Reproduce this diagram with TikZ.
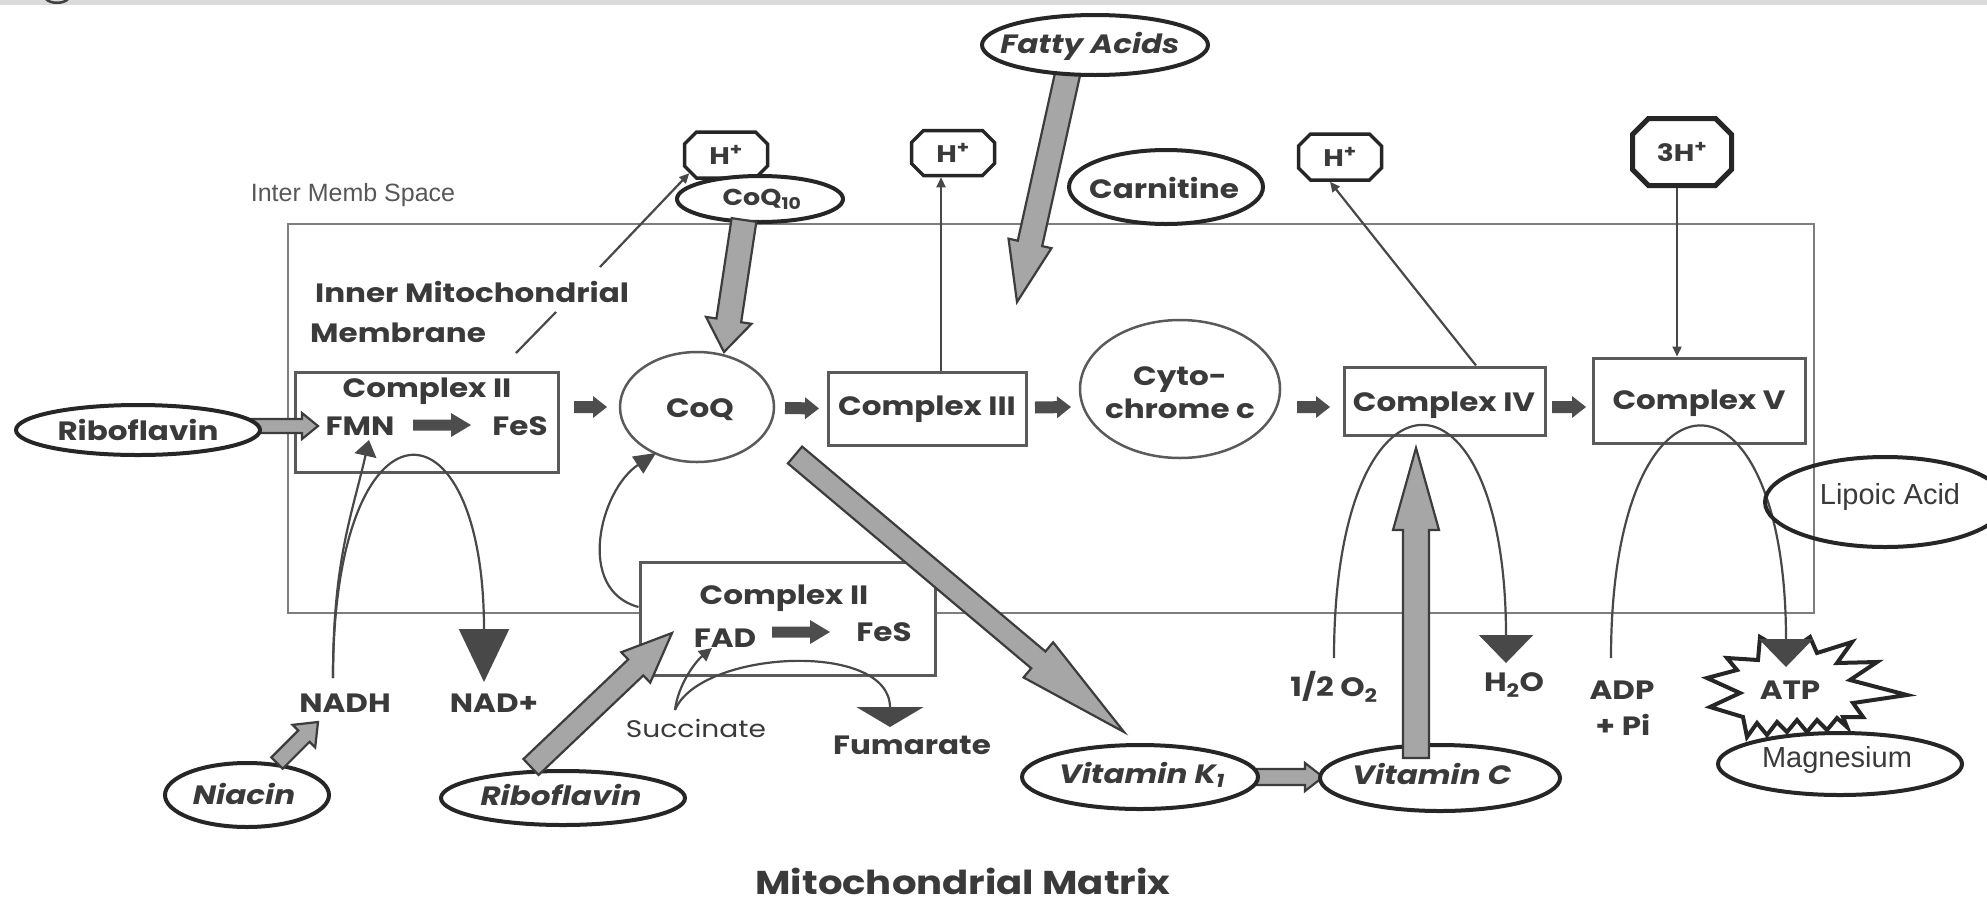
\documentclass[tikz,border=0pt]{standalone}
\usepackage{fontspec}
\newfontfamily\gf{Poppins}[FakeStretch=1.17]
\newfontfamily\af{Liberation Sans}
\usetikzlibrary{shapes.geometric,shapes.misc,arrows.meta,calc}
\definecolor{txtc}{HTML}{3A3A3A}
\definecolor{ovalc}{HTML}{262626}
\definecolor{boxc}{HTML}{5A5A5A}
\definecolor{linec}{HTML}{484848}
\definecolor{lightar}{HTML}{A6A6A6}
\definecolor{darkar}{HTML}{4D4D4D}
\definecolor{membc}{HTML}{7E7E7E}
\newcommand\gsize[1]{\fontsize{#1}{#1}\selectfont}
% block arrow: style, from, to, half shaft width, half head width, head length
\newcommand\barrow[6]{%
  \coordinate (bah) at ($(#3)!#6!(#2)$);
  \path[#1] ($(#2)!#4!90:(#3)$) -- ($(bah)!#4!90:(#3)$) -- ($(bah)!#5!90:(#3)$) -- (#3)
     -- ($(bah)!#5!-90:(#3)$) -- ($(bah)!#4!-90:(#3)$) -- ($(#2)!#4!-90:(#3)$) -- cycle;}
\begin{document}
\begin{tikzpicture}[x=1pt,y=-1pt,
  lbl/.style={text=txtc, inner sep=0pt, font=\gf\bfseries\gsize{26.5}},
  ilbl/.style={text=txtc, inner sep=0pt, font=\gf\bfseries\itshape\gsize{26.5}},
  albl/.style={text=txtc, inner sep=0pt, font=\af\gsize{29}},
  oval/.style={ellipse, draw=ovalc, line width=4pt, fill=white, inner sep=0pt},
  thinoval/.style={ellipse, draw=boxc, line width=2.5pt, fill=white, inner sep=0pt},
  boxn/.style={rectangle, draw=boxc, line width=3pt, fill=white, inner sep=0pt},
  hbox/.style={chamfered rectangle, chamfered rectangle xsep=6pt, chamfered rectangle ysep=6pt,
    draw=ovalc, line width=3.5pt, fill=white, inner sep=0pt, text=txtc, font=\gf\bfseries\gsize{24}},
  thinln/.style={draw=linec, line width=2.2pt},
  smalltip/.style={-{Triangle[length=10pt,width=9pt]}},
  bigtip/.style={-{Triangle[length=28pt,width=54pt]}},
  lightblk/.style={fill=lightar, draw=ovalc!90, line width=2.2pt, line join=miter},
  darkblk/.style={fill=darkar}]
\useasboundingbox (0,0) rectangle (1987,903);
\fill[white] (0,0) rectangle (1987,903);
\fill[black!14] (0,0) rectangle (1987,5);
\draw[black!75, line width=2.5pt] (46,-1) .. controls (50,4) and (64,4) .. (68,-1);

% inner membrane
\node[draw=membc, line width=2.5pt, minimum width=1526pt, minimum height=389pt, inner sep=0] (memb) at (1051,418.5) {};
\node[font=\af\gsize{25}, text=txtc!85, inner sep=0pt] (ims) at (353,195) {Inter Memb Space};
\node[lbl, anchor=west] (imm1) at (315,292) {Inner Mitochondrial};
\node[lbl, anchor=west] (imm2) at (310,333) {Membrane};
\coordinate (ptra) at (516,353);
\coordinate (ptrb) at (556,312);
\draw[thinln] (ptra) -- (ptrb);

% electron transport chain
\node[boxn, minimum width=263pt, minimum height=100pt] (c1) at (426.5,422) {};
\node[lbl] (c1t) at (427,391) {Complex II};
\node[lbl] (fmn) at (360,426) {FMN};
\node[lbl] (fes1) at (520,426) {FeS};
\node[thinoval, minimum width=154pt, minimum height=110pt] (coq) at (697,407) {};
\node[lbl] (coqt) at (700,410) {CoQ};
\node[boxn, minimum width=198pt, minimum height=73pt] (c3) at (927,408.5) {};
\node[lbl] (c3t) at (927,409) {Complex III};
\node[thinoval, minimum width=200pt, minimum height=138pt] (cyt) at (1180,389) {};
\node[lbl, align=center, font=\gf\bfseries\fontsize{26.5}{33}\selectfont] (cytt) at (1180,393) {Cyto-\\chrome c};
\node[boxn, minimum width=201pt, minimum height=68pt] (c4) at (1444.5,401) {};
\node[lbl] (c4t) at (1444,405) {Complex IV};
\node[boxn, minimum width=212pt, minimum height=85pt] (c5) at (1699,400.5) {};
\node[lbl] (c5t) at (1699,403) {Complex V};

% protons
\node[hbox, minimum width=83pt, minimum height=46pt] (hp1) at (726,155) {H\textsuperscript{+}};
\node[oval, minimum width=166pt, minimum height=46pt] (coq10) at (760,199) {};
\node[lbl, font=\gf\bfseries\gsize{23}] (coq10t) at (762,199) {CoQ\textsubscript{10}};
\coordinate (ptrc) at (600,267);
\draw[thinln, smalltip] (ptrc) -- (hp1.south west);
\node[hbox, minimum width=83pt, minimum height=45pt] (hp2) at (953,153) {H\textsuperscript{+}};
\draw[thinln, smalltip] ($(c3.north)+(14,0)$) -- ($(hp2.south)+(-12,0)$);
\node[hbox, minimum width=83pt, minimum height=46pt] (hp3) at (1340,157) {H\textsuperscript{+}};
\draw[thinln, smalltip] ($(c4.north)+(31.5,0)$) -- ($(hp3.south)+(-10,0)$);
\node[hbox, minimum width=99pt, minimum height=67pt, line width=5pt, chamfered rectangle xsep=8pt, chamfered rectangle ysep=8pt] (hp33) at (1682,152) {3H\textsuperscript{+}};
\draw[thinln, smalltip] ($(hp33.south)+(-5,0)$) -- ($(c5.north)+(-22,0)$);

% lower complex II
\node[boxn, minimum width=295pt, minimum height=113pt] (c2b) at (787.5,618.5) {};
\node[lbl] (c2bt) at (784,598) {Complex II};
\node[lbl] (fad) at (725,638) {FAD};
\node[lbl] (fes2) at (884,632) {FeS};

% side labels
\node[lbl] (nadh) at (345,703) {NADH};
\node[lbl] (nadp) at (494,703) {NAD+};
\node[text=txtc, inner sep=0pt, font=\gf\gsize{24}] (succ) at (696,728) {Succinate};
\node[lbl] (fum) at (912,745) {Fumarate};
\node[lbl] (o2) at (1334,687) {1/2 O\textsubscript{2}};
\node[lbl] (h2o) at (1514,685) {H\textsubscript{2}O};
\node[lbl] (adp) at (1622,690) {ADP};
\node[lbl] (pi) at (1623,725) {+ Pi};
\node[lbl, font=\gf\bfseries\gsize{33}, anchor=base] (mm) at (963,894) {Mitochondrial Matrix};

% ATP burst
\draw[ovalc, line width=4pt, fill=white, line join=miter]
  (1707,678) -- (1737,670) -- (1727,658) -- (1758,660) -- (1760,637) -- (1787,653) -- (1810,637)
  -- (1817,653) -- (1852,642) -- (1837,663) -- (1877,662) -- (1850,680) -- (1907,695)
  -- (1853,703) -- (1863,717) -- (1843,717) -- (1847,727) -- (1837,718) -- (1827,730)
  -- (1817,720) -- (1807,732) -- (1797,720) -- (1787,732) -- (1777,722) -- (1767,735)
  -- (1757,723) -- (1747,737) -- (1743,717) -- (1710,707) -- (1740,693) -- cycle;
\node[lbl] (atp) at (1790,690) {ATP};

% curved reactions
\coordinate (nadhs) at ($(nadh)+(-12,-25)$);
\coordinate (fmnt) at ($(fmn)+(9,14)$);
\coordinate (nadt) at ($(nadp)+(-10,-21)$);
\draw[thinln, -{Triangle[length=16pt,width=22pt]}] (nadhs) .. controls (333,560) and (352,515) .. (fmnt);
\draw[thinln, -{Triangle[length=53pt,width=50pt]}] (nadhs) .. controls (333,389) and (484,389) .. (nadt);
\coordinate (rva) at ($(c2b.west)+(0,-11.5)$);
\coordinate (rvb) at (656,453);
\draw[thinln, -{Triangle[length=22pt,width=20pt]}] (rva) .. controls (575,590) and (600,490) .. (rvb);
\coordinate (succs) at ($(succ)+(-21,-18)$);
\coordinate (fadt) at ($(fad)+(-13,10)$);
\coordinate (fumt) at ($(fum)+(-22,-18)$);
\draw[thinln, -{Triangle[length=13pt,width=13pt]}] (succs) .. controls (678,685) and (695,662) .. (fadt);
\draw[thinln, -{Triangle[length=20pt,width=67pt]}] (succs) .. controls (700,650) and (890,640) .. (fumt);
\coordinate (o2s) at ($(o2)+(0,-29)$);
\coordinate (h2ot) at ($(h2o)+(-8,-22)$);
\draw[thinln, bigtip] (o2s) .. controls (1334,351) and (1506,351) .. (h2ot);
\coordinate (adps) at ($(adp)+(-11,-32)$);
\coordinate (atpt) at ($(atp)+(-4,-23)$);
\draw[thinln, bigtip] (adps) .. controls (1611,351) and (1786,351) .. (atpt);

% block arrows along the chain
\coordinate (k1a) at ($(coq)+(-123,0)$);  \coordinate (k1b) at ($(coq)+(-90,0)$);
\coordinate (k2a) at ($(coq)+(88,1)$);    \coordinate (k2b) at ($(c3)+(-108,0)$);
\coordinate (k3a) at ($(c3)+(108,-1)$);   \coordinate (k3b) at ($(cyt)+(-109,18)$);
\coordinate (k4a) at ($(c4)+(-147.5,6)$); \coordinate (k4b) at ($(c4)+(-114.5,6)$);
\coordinate (k5a) at ($(c4)+(107.5,6)$);  \coordinate (k5b) at ($(c5)+(-113,6.5)$);
\barrow{darkblk}{k1a}{k1b}{6pt}{11pt}{14pt}
\barrow{darkblk}{k2a}{k2b}{6pt}{11pt}{14pt}
\barrow{darkblk}{k3a}{k3b}{6pt}{11pt}{14pt}
\barrow{darkblk}{k4a}{k4b}{6pt}{11pt}{14pt}
\barrow{darkblk}{k5a}{k5b}{6pt}{11pt}{14pt}
\coordinate (f1a) at ($(fmn)+(53,-1)$);   \coordinate (f1b) at ($(fes1)+(-49,-1)$);
\barrow{darkblk}{f1a}{f1b}{5.5pt}{12pt}{20pt}
\coordinate (f2a) at ($(fad)+(47,-6)$);   \coordinate (f2b) at ($(fes2)+(-54,0)$);
\barrow{darkblk}{f2a}{f2b}{5.5pt}{12pt}{20pt}

% nutrient ellipses and their arrows
\coordinate (q1a) at ($(coq10)+(-16,21)$); \coordinate (q1b) at ($(coq)+(27,-55)$);
\barrow{lightblk}{q1a}{q1b}{12.5pt}{23pt}{32pt}

\coordinate (fa1) at (1068,72); \coordinate (fatip) at (1017,302);
\barrow{lightblk}{fa1}{fatip}{12.5pt}{22pt}{60pt}
\node[oval, minimum width=226pt, minimum height=60pt] (fa) at (1095,45) {};
\node[ilbl] (fat) at (1090,46) {Fatty Acids};
\node[oval, minimum width=194pt, minimum height=74pt] (carn) at (1166,187) {};
\node[lbl] (carnt) at (1164,188) {Carnitine};

\coordinate (r1a) at (246,426); \coordinate (r1b) at ($(fmn)+(-42,0)$);
\barrow{lightblk}{r1a}{r1b}{7pt}{13pt}{16pt}
\node[oval, minimum width=244pt, minimum height=50pt] (rib1) at (138,430) {};
\node[lbl] (rib1t) at (138,430) {Riboflavin};

\coordinate (vka) at ($(coq)+(98,48)$); \coordinate (vktip) at (1124,732);
\barrow{lightblk}{vka}{vktip}{11pt}{23pt}{112pt}

\node[oval, minimum width=164pt, minimum height=64pt] (nia) at (247,795) {};
\node[ilbl] (niat) at (244,794) {Niacin};
\coordinate (n1a) at ($(nia)+(30,-32)$); \coordinate (n1b) at ($(nadh)+(-27,19)$);
\barrow{lightblk}{n1a}{n1b}{8pt}{16pt}{20pt}
\node[oval, minimum width=244pt, minimum height=54pt] (rib2) at (563,798) {};
\node[ilbl] (rib2t) at (561,795) {Riboflavin};
\coordinate (r2a) at ($(rib2)+(-32,-31)$); \coordinate (r2b) at ($(c2b)+(-115.5,14.5)$);
\barrow{lightblk}{r2a}{r2b}{11pt}{21pt}{50pt}

\coordinate (kca) at (1252,777); \coordinate (kcb) at (1323,777);
\barrow{lightblk}{kca}{kcb}{8pt}{14pt}{18pt}
\node[oval, minimum width=236pt, minimum height=64pt] (vk1) at (1140,777) {};
\node[ilbl] (vk1t) at (1142,775) {Vitamin K\textsubscript{1}};
\node[oval, minimum width=240pt, minimum height=66pt] (vc) at (1440,778) {};
\node[ilbl] (vct) at (1432,774) {Vitamin C};
\coordinate (c4a) at ($(vc)+(-24,-20)$); \coordinate (c4b) at ($(c4)+(-28.5,47)$);
\barrow{lightblk}{c4a}{c4b}{13pt}{23pt}{82pt}

\node[ellipse, draw=ovalc, line width=4pt, inner sep=0pt, minimum width=240pt, minimum height=90pt] (lip) at (1885,502) {};
\node[albl] (lipt) at (1890,497) {Lipoic Acid};
\node[oval, minimum width=244pt, minimum height=62pt] (mg) at (1840,764) {};
\node[albl] (mgt) at (1837,760) {Magnesium};
\end{tikzpicture}
\end{document}
